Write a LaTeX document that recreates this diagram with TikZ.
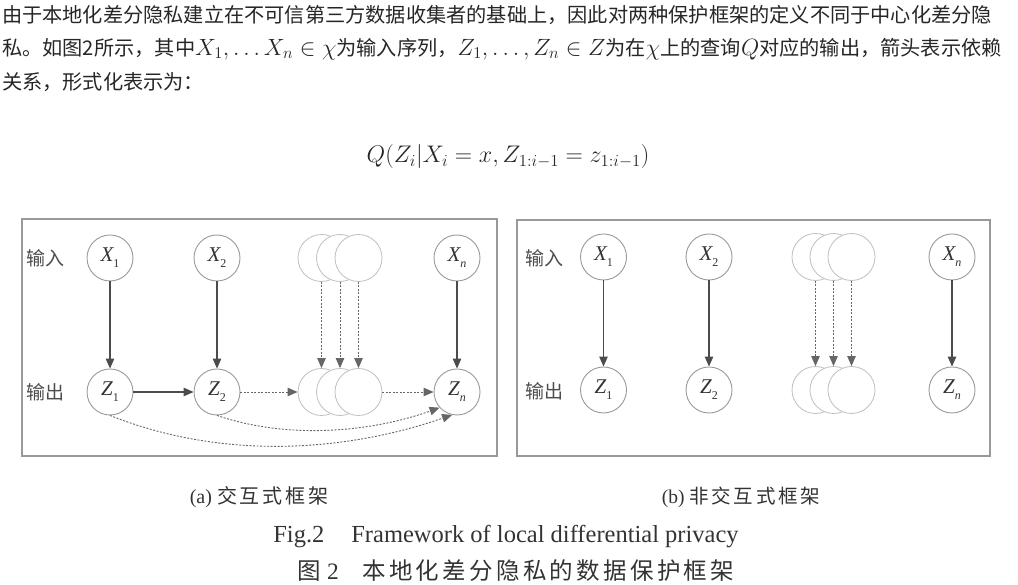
\documentclass[tikz,border=0pt]{standalone}
\usepackage{fix-cm}
\usepackage{amsmath}
\usepackage{fontspec}
\setmainfont{Liberation Serif}
\newfontfamily\cjk{Noto Sans CJK SC}
\newfontfamily\cjkwide[LetterSpace=14]{Noto Sans CJK SC}
\usetikzlibrary{arrows.meta}

% random variable in a circle: italic letter, small lowered index
\newcommand{\rv}[2]{{\itshape #1}\raisebox{-0.28em}{\fontsize{12}{12}\selectfont #2}}
% inline math, a bit larger than the Chinese text around it
\newcommand{\im}[1]{{\fontsize{23.5}{24}\selectfont$#1$}}

\begin{document}
\begin{tikzpicture}[x=1pt,y=1pt,>={Triangle[length=10pt,width=8.5pt]},
  var/.style={circle,draw=black!40,fill=white,line width=0.9pt,minimum size=46pt,inner sep=0pt,
    font=\fontsize{21}{21}\selectfont,text=black!80},
  ghost/.style={circle,draw=black!25,fill=white,line width=0.8pt,minimum size=47pt,inner sep=0pt},
  dep/.style={->,draw=black!70,line width=1.2pt},
  ddep/.style={->,draw=black!60,line width=0.9pt,dash pattern=on 2pt off 1.5pt},
  frame/.style={draw=black!40,line width=1.4pt},
  side/.style={font=\cjk\fontsize{19}{19}\selectfont,text=black!70},
  para/.style={anchor=west,inner sep=0pt,font=\cjk\fontsize{20.2}{24}\selectfont,text=black!85},
  caption/.style={inner sep=0pt,text=black!80}]
  \useasboundingbox (0,0) rectangle (1018,585);

  % text above the figure
  \node[para] (line1) at (2,570) {由于本地化差分隐私建立在不可信第三方数据收集者的基础上，因此对两种保护框架的定义不同于中心化差分隐};
  \node[para] (line2) at (2,536) {私。如图2所示，其中\im{X_1,\ldots X_n\in\chi}为输入序列，\im{Z_1,\ldots,Z_n\in Z}为在\im{\chi}上的查询\im{Q}对应的输出，箭头表示依赖};
  \node[para] (line3) at (2,503) {关系，形式化表示为：};
  \node[inner sep=0pt,font=\fontsize{24}{28}\selectfont,text=black!85] (eq) at (508,428)
    {$Q(Z_i|X_i=x,Z_{1:i-1}=z_{1:i-1})$};

  % (a) interactive
  \draw[frame] (22,129) rectangle (497,366);
  \node[side] (ina) at (46,327) {输入};
  \node[side] (outa) at (46,193) {输出};
  \node[var] (x1a) at (110,327) {\rv{X}{1}};
  \node[var] (x2a) at (217,327) {\rv{X}{2}};
  \node[var] (xna) at (457,327) {\rv{X}{\itshape n}};
  \node[var] (z1a) at (110,193) {\rv{Z}{1}};
  \node[var] (z2a) at (217,193) {\rv{Z}{2}};
  \node[var] (zna) at (457,193) {\rv{Z}{\itshape n}};
  \foreach \i/\x in {1/321.5,2/340,3/358.5} {
    \node[ghost] (sa\i) at (\x,327) {};
    \node[ghost] (ta\i) at (\x,193) {};
  }
  \draw[dep] (x1a) -- (z1a);
  \draw[dep] (x2a) -- (z2a);
  \draw[dep] (xna) -- (zna);
  \foreach \i in {1,2,3} \draw[ddep] (sa\i) -- (ta\i);
  \draw[dep] (z1a) -- (z2a);
  \draw[ddep] (z2a) -- (ta1);
  \draw[ddep] (ta3) -- (zna);
  \draw[ddep] (z1a.south) .. controls +(110,-44) and +(-110,-38) .. (zna.258);
  \draw[ddep] (z2a.south) .. controls +(70,-24) and +(-70,-25) .. (zna.222);

  % (b) non-interactive
  \draw[frame] (517,129) rectangle (990,365);
  \node[side] (inb) at (544,327) {输入};
  \node[side] (outb) at (544,194) {输出};
  \node[var] (x1b) at (603.5,328) {\rv{X}{1}};
  \node[var] (x2b) at (709,328) {\rv{X}{2}};
  \node[var] (xnb) at (952,328) {\rv{X}{\itshape n}};
  \node[var] (z1b) at (603.5,195) {\rv{Z}{1}};
  \node[var] (z2b) at (709,195) {\rv{Z}{2}};
  \node[var] (znb) at (952,195) {\rv{Z}{\itshape n}};
  \foreach \i/\x in {1/815.5,2/833.5,3/851.5} {
    \node[ghost] (sb\i) at (\x,328) {};
    \node[ghost] (tb\i) at (\x,195) {};
  }
  \draw[dep] (x1b) -- (z1b);
  \draw[dep] (x2b) -- (z2b);
  \draw[dep] (xnb) -- (znb);
  \foreach \i in {1,2,3} \draw[ddep] (sb\i) -- (tb\i);

  % captions
  \node[caption,font=\fontsize{20}{20}\selectfont] (capa) at (259,88) {(a)\ {\cjkwide 交互式框架}};
  \node[caption,font=\fontsize{19.5}{20}\selectfont] (capb) at (741,88) {(b)\ {\cjkwide 非交互式框架}};
  \node[caption,font=\fontsize{24.5}{25}\selectfont] (figen) at (506,48) {Fig.2\hspace{1.1em}Framework of local differential privacy};
  \node[caption,font=\fontsize{23.5}{24}\selectfont] (figcn) at (516,14) {{\cjkwide 图} 2\hspace{1em}{\cjkwide 本地化差分隐私的数据保护框架}};
\end{tikzpicture}
\end{document}
